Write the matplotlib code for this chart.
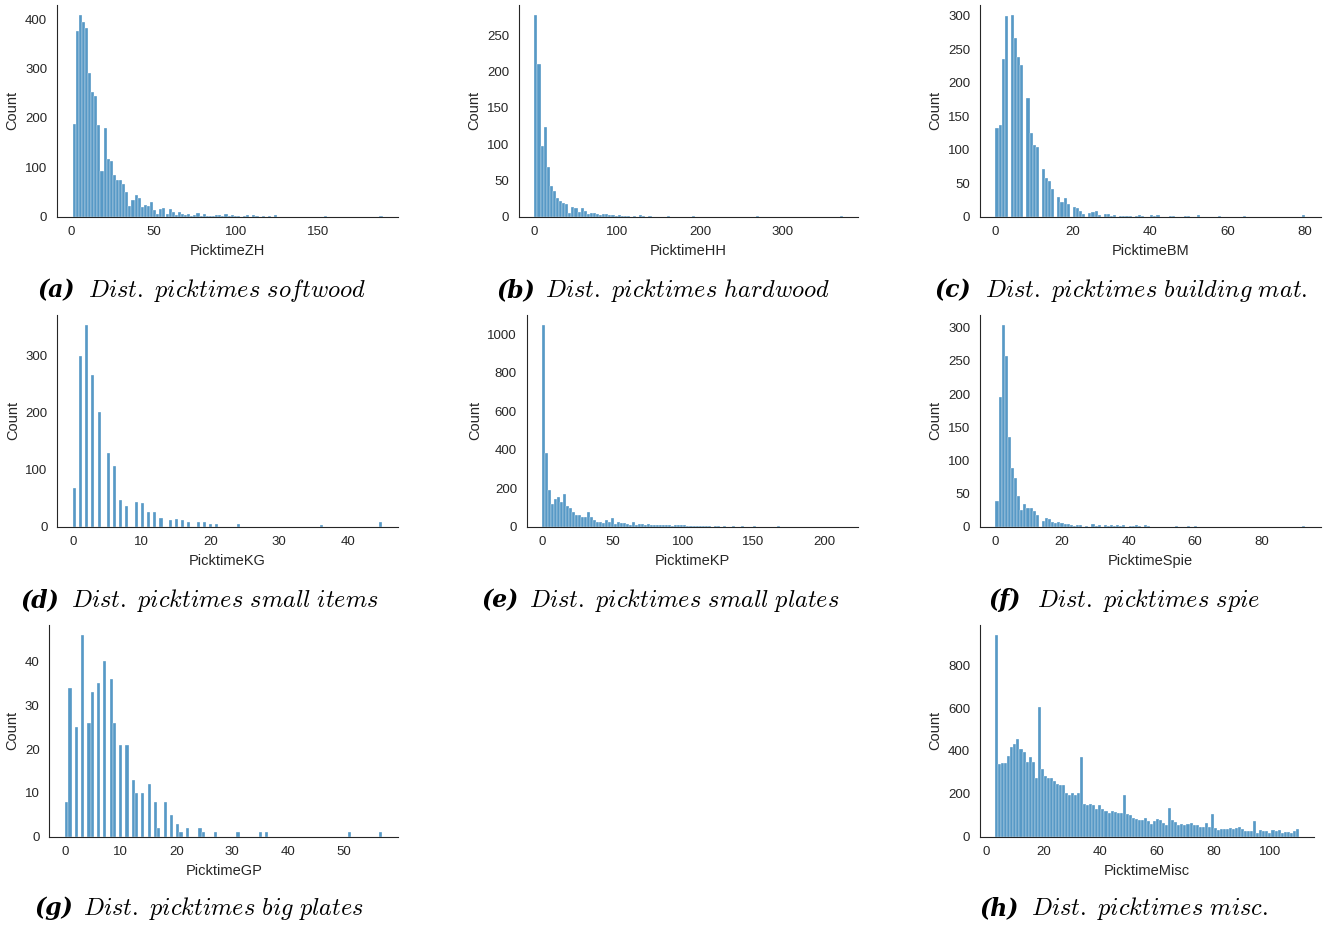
import numpy as np
import matplotlib
matplotlib.use("Agg")
import matplotlib.pyplot as plt
from matplotlib.ticker import MultipleLocator
import seaborn as sns

# --- data (100 bins per panel) ---

# (a) softwood, continuous, bins over 1..189
zh_range = (1, 189)
zh_counts = [188, 375, 408, 393, 382, 291, 252, 245, 185, 93,
             179, 116, 112, 85, 74, 74, 67, 50, 22, 33,
             44, 38, 19, 24, 22, 29, 14, 5, 16, 17,
             6, 16, 9, 4, 9, 5, 4, 5, 2, 3,
             7, 2, 5, 2, 2, 1, 3, 4, 2, 5,
             1, 4, 1, 2, 0, 1, 3, 0, 3, 1,
             0, 2, 0, 1, 0, 3, 0, 0, 0, 0,
             0, 0, 0, 0, 0, 0, 0, 0, 0, 0,
             0, 1, 0, 0, 0, 0, 0, 0, 0, 0,
             0, 0, 0, 0, 0, 0, 0, 0, 0, 2]

# (b) hardwood, bins over 0..372
hh_range = (0, 372)
hh_counts = [278, 211, 98, 123, 69, 43, 35, 26, 21, 19,
             18, 5, 14, 12, 7, 12, 8, 4, 5, 5,
             4, 3, 4, 4, 3, 2, 1, 2, 1, 1,
             1, 0, 1, 0, 2, 1, 0, 1, 0, 0,
             0, 0, 0, 1, 0, 0, 0, 0, 0, 0,
             0, 1, 0, 0, 0, 0, 0, 0, 0, 0,
             0, 0, 0, 0, 0, 0, 0, 0, 0, 0,
             0, 0, 1, 0, 0, 0, 0, 0, 0, 0,
             0, 0, 0, 0, 0, 0, 0, 0, 0, 0,
             0, 0, 0, 0, 0, 0, 0, 0, 0, 1]

# (c) building material, integer picktimes 0..80
bm_counts = [133, 137, 235, 299, 301, 267, 239, 226, 177, 125,
             107, 104, 71, 58, 53, 41, 30, 22, 28, 19,
             15, 13, 8, 4, 5, 7, 8, 3, 4, 4,
             1, 3, 1, 1, 1, 1, 1, 2, 1, 0,
             2, 1, 2, 0, 0, 1, 1, 0, 0, 1,
             1, 0, 3, 0, 0, 0, 0, 0, 1, 0,
             0, 0, 0, 0, 1, 0, 0, 0, 0, 0,
             0, 0, 0, 0, 0, 0, 0, 0, 0, 0,
             2]

# (d) small items, integer picktimes 0..45
kg_counts = [67, 299, 353, 265, 200, 129, 106, 47, 37, 44,
             42, 25, 25, 15, 11, 13, 11, 8, 9, 8,
             4, 5, 0, 0, 5, 0, 0, 0, 0, 0,
             0, 0, 0, 0, 0, 0, 3, 0, 0, 0,
             0, 0, 0, 0, 0, 8]

# (e) small plates, bins over 0..213.5
kp_range = (0, 213.5)
kp_counts = [1049, 386, 191, 119, 142, 154, 128, 168, 108, 96,
             75, 63, 63, 49, 52, 79, 49, 35, 26, 26,
             21, 35, 24, 44, 14, 26, 21, 19, 14, 10,
             23, 10, 14, 14, 10, 16, 7, 7, 10, 10,
             7, 7, 7, 3, 7, 7, 7, 7, 3, 3,
             3, 3, 2, 3, 2, 2, 1, 2, 2, 1,
             2, 1, 1, 2, 1, 1, 2, 1, 0, 1,
             2, 1, 0, 1, 1, 0, 1, 0, 2, 0,
             1, 0, 1, 0, 0, 1, 0, 1, 0, 0,
             0, 1, 0, 0, 0, 0, 0, 0, 0, 1]

# (f) spie, integer picktimes 0..93
spie_counts = [39, 195, 304, 257, 135, 89, 74, 47, 25, 34,
               28, 28, 24, 18, 9, 13, 11, 7, 6, 7,
               6, 4, 4, 3, 1, 3, 3, 1, 0, 4,
               1, 2, 0, 2, 1, 2, 1, 2, 1, 2,
               1, 1, 2, 1, 0, 3, 1, 0, 0, 0,
               0, 0, 0, 0, 1, 0, 0, 0, 1, 0,
               1, 0, 0, 0, 0, 0, 0, 0, 0, 0,
               0, 0, 0, 0, 0, 0, 0, 0, 0, 0,
               0, 0, 0, 0, 0, 0, 0, 0, 0, 0,
               0, 0, 0, 1]

# (g) big plates, integer picktimes 0..57
gp_counts = [8, 34, 25, 46, 26, 33, 35, 40, 36, 26,
             21, 21, 13, 10, 10, 12, 8, 2, 8, 5,
             3, 1, 2, 0, 2, 1, 0, 1, 0, 0,
             0, 1, 0, 0, 0, 1, 1, 0, 0, 0,
             0, 0, 0, 0, 0, 0, 0, 0, 0, 0,
             0, 1, 0, 0, 0, 0, 0, 1]

# (h) misc, bins over 3..110
misc_range = (3, 110)
misc_counts = [941, 339, 342, 342, 378, 417, 433, 458, 408, 395,
               348, 370, 348, 276, 605, 315, 284, 275, 275, 260,
               248, 243, 243, 205, 193, 205, 196, 205, 370, 151,
               149, 151, 149, 130, 147, 130, 122, 111, 121, 115,
               110, 110, 195, 107, 102, 89, 83, 80, 77, 89,
               74, 61, 75, 83, 80, 66, 56, 136, 77, 67,
               56, 58, 56, 60, 63, 56, 55, 44, 45, 66,
               45, 104, 41, 30, 38, 38, 38, 42, 36, 39,
               44, 38, 25, 27, 27, 71, 16, 33, 27, 27,
               16, 31, 25, 31, 17, 20, 22, 16, 25, 38]

xlabels = ["PicktimeZH", "PicktimeHH", "PicktimeBM", "PicktimeKG",
           "PicktimeKP", "PicktimeSpie", "PicktimeGP", "PicktimeMisc"]
letters = ["(a)", "(b)", "(c)", "(d)", "(e)", "(f)", "(g)", "(h)"]
captions = ["Dist. picktimes softwood", "Dist. picktimes hardwood",
            "Dist. picktimes building mat.", "Dist. picktimes small items",
            "Dist. picktimes small plates", "Dist. picktimes spie",
            "Dist. picktimes big plates", "Dist. picktimes misc."]
ystep = [100, 50, 50, 100, 200, 50, 10, 200]


def centers(rng, n):
    edges = np.linspace(rng[0], rng[1], n + 1)
    return (edges[:-1] + edges[1:]) / 2


panels = [
    (centers(zh_range, 100), zh_counts, zh_range),
    (centers(hh_range, 100), hh_counts, hh_range),
    (np.arange(len(bm_counts)), bm_counts, None),
    (np.arange(len(kg_counts)), kg_counts, None),
    (centers(kp_range, 100), kp_counts, kp_range),
    (np.arange(len(spie_counts)), spie_counts, None),
    (np.arange(len(gp_counts)), gp_counts, None),
    (centers(misc_range, 100), misc_counts, misc_range),
]

# axes boxes in pixels: left, right, top, bottom
boxes = [(57, 398, 5, 216.7), (519, 858, 5, 216.7), (980, 1320.5, 5, 216.7),
         (57.3, 397.7, 315, 526.7), (526.7, 858.3, 315, 526.7), (980, 1320.5, 315, 526.7),
         (49.3, 398.3, 625, 836.7), (980, 1314, 625, 836.7)]
# caption positions in pixels: letter left, text left, baseline
cap_pos = [(38, 88, 297), (497, 545, 297), (935, 985, 297),
           (21, 71, 607), (482, 529, 607), (989, 1037, 607),
           (35, 83, 915), (980, 1031, 915)]

W, H = 1324, 925

sns.set_style("white")
plt.rcParams["font.family"] = ["Liberation Sans", "DejaVu Sans"]
plt.rcParams["mathtext.fontset"] = "cm"

fig = plt.figure(figsize=(W / 100, H / 100), dpi=100)

for i, (vals, cnts, rng) in enumerate(panels):
    l, r, t, b = boxes[i]
    ax = fig.add_axes([l / W, 1 - b / H, (r - l) / W, (b - t) / H])
    sns.histplot(x=vals, weights=cnts, bins=100, binrange=rng, ax=ax)
    ax.yaxis.set_major_locator(MultipleLocator(ystep[i]))
    ax.set_xlabel(xlabels[i], fontsize=10.5)
    ax.set_ylabel("Count", fontsize=10.5)
    ax.tick_params(labelsize=9.5)
    sns.despine(ax=ax)

    lx, tx, by = cap_pos[i]
    fig.text(lx / W, 1 - by / H, letters[i], fontsize=17, family="DejaVu Serif",
             style="italic", weight="bold", va="baseline", ha="left", color="black")
    txt = r"$\mathit{" + captions[i].replace(" ", r"\ ") + "}$"
    fig.text(tx / W, 1 - by / H, txt, fontsize=17.5, va="baseline", ha="left",
             color="black")

fig.savefig("out.png", dpi=100)
